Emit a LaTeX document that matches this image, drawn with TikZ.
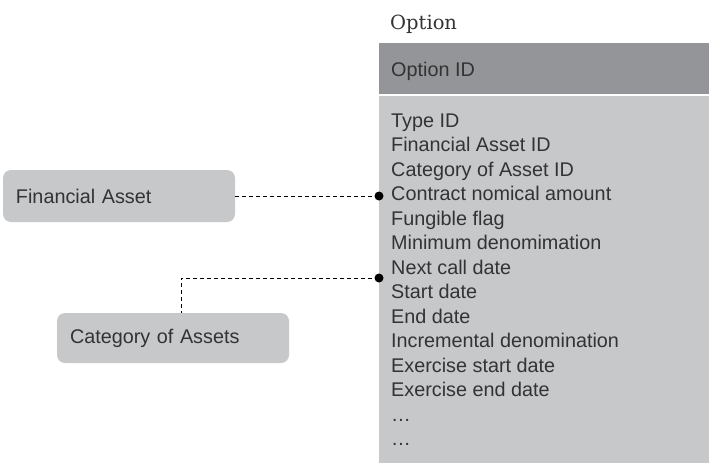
\documentclass[tikz,border=0pt]{standalone}
\usepackage{fontspec}
\setmainfont{Liberation Sans}
\newfontfamily\titlefont{DejaVu Serif}
\usetikzlibrary{calc}

\definecolor{hdrgray}{HTML}{939598}
\definecolor{bodygray}{HTML}{C7C8CA}
\definecolor{txtgray}{HTML}{333333}

\tikzset{
  campo/.style={anchor=base west, inner sep=0pt, text=txtgray,
    font=\fontsize{19.8}{23}\selectfont},
  caixa/.style={rectangle, rounded corners=8, fill=bodygray, draw=none,
    minimum width=232, text width=206, inner xsep=13, align=left,
    text=txtgray, font=\fontsize{19.8}{23}\selectfont},
  ligacao/.style={draw=black, dash pattern=on 4pt off 3pt, line width=0.8pt},
  ponto/.style={circle, fill=black, inner sep=0pt, minimum size=9}
}

\begin{document}
\begin{tikzpicture}[x=1pt, y=-1pt]
  \useasboundingbox (0,0) rectangle (709,463);
  % Tabela Option
  \node[anchor=base west, inner sep=0pt, text=txtgray,
    font=\titlefont\fontsize{19.5}{22}\selectfont] (titulo) at (390,29) {Option};
  \fill[hdrgray] (379,43) rectangle (709,94);
  \fill[bodygray] (379,96) rectangle (709,463);
  \node[campo] (chave) at (391,76) {Option ID};
  \foreach \txt [count=\i] in {Type ID, Financial Asset ID, Category of Asset ID,
      Contract nomical amount, Fungible flag, Minimum denomimation,
      Next call date, Start date, End date, Incremental denomination,
      Exercise start date, Exercise end date, \ldots, \ldots}
    \node[campo] (f\i) at (391,{127+24.5*(\i-1)}) {\txt};

  % Entidades relacionadas
  \node[caixa, minimum height=52] (fa) at (119,196) {Financial Asset};
  \node[caixa, minimum height=50] (ca) at (173,338) {Category of Assets};

  % Ligacoes
  \node[ponto] (p1) at (379,196) {};
  \node[ponto] (p2) at (379,278) {};
  \draw[ligacao] (fa.east) -- (p1.center);
  \draw[ligacao] (p2.center) -| ([xshift=8]ca.north);
\end{tikzpicture}
\end{document}
